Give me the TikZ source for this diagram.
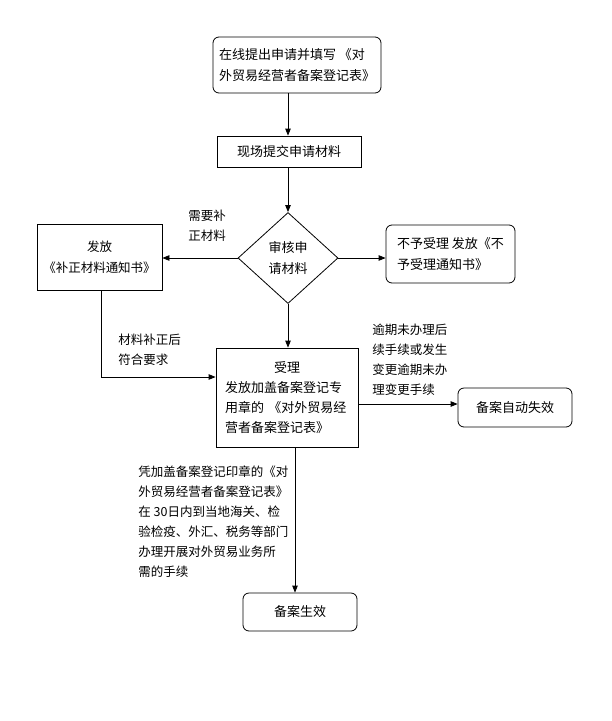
\documentclass[tikz,border=0pt]{standalone}
\usepackage{fontspec}
\setmainfont{Noto Sans CJK SC}
\usetikzlibrary{arrows.meta,shapes.geometric}
\begin{document}
\begin{tikzpicture}[x=1pt,y=-1pt,line width=0.8pt,
  box/.style={draw, inner sep=0pt, font=\fontsize{13}{21}\selectfont},
  rbox/.style={box, rounded corners=6pt},
  lbl/.style={inner sep=0pt, align=left, font=\fontsize{12.5}{20}\selectfont},
  arr/.style={-{Triangle[length=7pt,width=5.5pt]}}]
\useasboundingbox (0,0) rectangle (612,721);
\node[rbox, minimum width=168pt, minimum height=56pt, align=left] (b1) at (297,65) {在线提出申请并填写 《对\\外贸易经营者备案登记表》};
\node[box, minimum width=144pt, minimum height=31pt] (b2) at (289,151.5) {现场提交申请材料};
\node[box, diamond, aspect=1.1, minimum width=100pt, minimum height=91pt, align=center] (d) at (288,258) {审核申\\请材料};
\node[box, minimum width=125pt, minimum height=66pt, align=center, font=\fontsize{12.5}{21}\selectfont] (L) at (99.5,257) {发放\\《补正材料通知书》};
\node[rbox, minimum width=129pt, minimum height=58pt, align=left] (R) at (450.5,254) {不予受理 发放《不\\予受理通知书》};
\node[box, minimum width=142pt, minimum height=99pt, text width=124pt, align=left, font=\fontsize{13}{20}\selectfont] (A) at (287,397.5) {\makebox[124pt]{受理}\\发放加盖备案登记专\\用章的 《对外贸易经\\营者备案登记表》};
\node[rbox, minimum width=114pt, minimum height=39pt] (F) at (515,407.5) {备案自动失效};
\node[rbox, minimum width=114pt, minimum height=38pt] (E) at (300,612) {备案生效};
\coordinate (lc) at (101,377);
\coordinate (ar) at (0,404);
\coordinate (ab) at (295,0);
\draw[arr] (b1.south -| d.center) -- (b2.north -| d.center);
\draw[arr] (b2.south -| d.center) -- (d.north);
\draw[arr] (d.west) -- (L.east |- d.west);
\draw[arr] (d.east) -- (R.west |- d.east);
\draw[arr] (d.south) -- (A.north -| d.south);
\draw[arr] (L.south -| lc) -- (lc) -- (A.west |- lc);
\draw[arr] (A.east |- ar) -- (F.west |- ar);
\draw[arr] (A.south -| ab) -- (E.north -| ab);
\node[lbl, anchor=west] (l1) at (188,226) {需要补\\正材料};
\node[lbl, anchor=west] (l2) at (118,350) {材料补正后\\符合要求};
\node[lbl, anchor=west] (l3) at (372,360) {逾期未办理后\\续手续或发生\\变更逾期未办\\理变更手续};
\node[lbl, anchor=west] (l4) at (138,522) {凭加盖备案登记印章的《对\\外贸易经营者备案登记表》\\在 30日内到当地海关、检\\验检疫、外汇、税务等部门\\办理开展对外贸易业务所\\需的手续};
\end{tikzpicture}
\end{document}
